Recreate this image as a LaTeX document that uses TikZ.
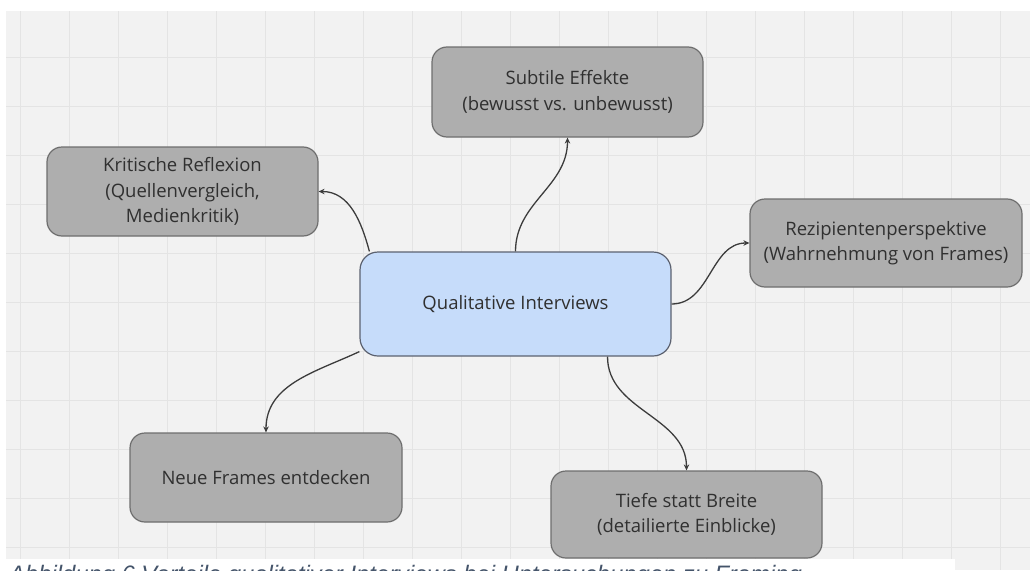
\documentclass[tikz,border=0pt]{standalone}
\usepackage{fontspec}
\setmainfont{Open Sans}
\newfontfamily\captionfont{Liberation Sans}
\usetikzlibrary{arrows.meta}

\definecolor{canvasbg}{HTML}{F2F2F2}
\definecolor{gridline}{HTML}{E4E4E4}
\definecolor{boxfill}{HTML}{AEAEAE}
\definecolor{boxline}{HTML}{6E6E6E}
\definecolor{hubfill}{HTML}{C6DCFA}
\definecolor{hubline}{HTML}{5C6270}
\definecolor{labeltext}{HTML}{303030}
\definecolor{linkcol}{HTML}{3C3C3C}
\definecolor{captioncol}{HTML}{44546A}

\tikzset{
  topic/.style={draw=boxline, line width=1.2pt, fill=boxfill, rounded corners=15pt,
    align=center, text=labeltext, inner sep=0pt,
    font=\fontsize{18.5}{25.5}\selectfont},
  hub/.style={topic, draw=hubline, fill=hubfill, rounded corners=18pt},
  link/.style={draw=linkcol, line width=1.3pt,
    -{Stealth[length=6pt,width=5.5pt]}},
}

\begin{document}
\begin{tikzpicture}[x=1pt,y=-1pt]
  \useasboundingbox (0,0) rectangle (1030,570);
  \clip (0,0) rectangle (1030,570);

  % canvas with grid
  \fill[white] (0,0) rectangle (1030,570);
  \fill[canvasbg] (6,11) rectangle (1030,570);
  \foreach \gx in {20,69,...,1030} \draw[gridline, line width=0.9pt] (\gx,11) -- (\gx,570);
  \foreach \gy in {57,106,...,570} \draw[gridline, line width=0.9pt] (6,\gy) -- (1030,\gy);

  % nodes
  \node[hub, minimum width=311pt, minimum height=104pt] (qual) at (515.5,304) {Qualitative Interviews};
  \node[topic, minimum width=271pt, minimum height=90pt] (sub) at (567.5,92) {Subtile Effekte\\(bewusst vs. unbewusst)};
  \node[topic, minimum width=271pt, minimum height=89pt] (krit) at (182.5,191.5) {Kritische Reflexion\\(Quellenvergleich,\\Medienkritik)};
  \node[topic, minimum width=272pt, minimum height=88pt] (rez) at (886,243) {Rezipientenperspektive\\(Wahrnehmung von Frames)};
  \node[topic, minimum width=272pt, minimum height=89pt] (neue) at (266,477.5) {Neue Frames entdecken};
  \node[topic, minimum width=271pt, minimum height=87pt] (tiefe) at (686.5,514.5) {Tiefe statt Breite\\(detailierte Einblicke)};

  % connectors
  \draw[link] ([xshift=10pt]qual.north west) to[out=105,in=0] (krit.east);
  \draw[link] (qual.north) to[out=90,in=-90] (sub.south);
  \draw[link] (qual.east) to[out=0,in=180] (rez.west);
  \draw[link] ([yshift=5pt]qual.south west) to[out=205,in=90] (neue.north);
  \draw[link] ([xshift=92pt]qual.south) to[out=-90,in=90] (tiefe.north);

  % caption strip, only the top of its line lies inside the page
  \fill[white] (0,559) rectangle (955,570);
  \node[anchor=base west, inner sep=0pt, text=captioncol,
    font=\captionfont\itshape\fontsize{23.8}{26}\selectfont] (cap) at (9,582)
    {Abbildung 6 Vorteile qualitativer Interviews bei Untersuchungen zu Framing};
\end{tikzpicture}
\end{document}
